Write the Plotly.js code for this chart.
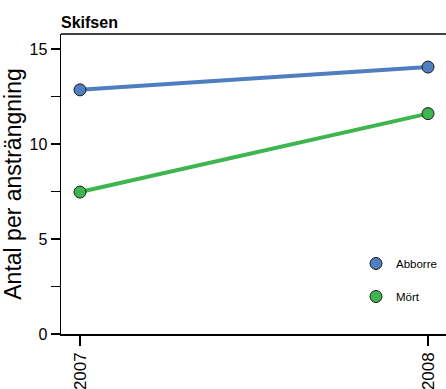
<!DOCTYPE html>
<html>
<head>
<meta charset="utf-8">
<script src="https://cdn.plot.ly/plotly-3.0.1.min.js"></script>
<style>html,body{margin:0;padding:0;background:#fff;} #chart{width:446px;height:389px;}</style>
</head>
<body>
<div id="chart"></div>
<script>
const years = [2007, 2008];
const abborre = [12.85, 14.05];
const mort = [7.47, 11.6];
const seriesNames = ["Abborre", "Mört"];
const yTicks = [0, 5, 10, 15];
const xTickLabels = ["2007", "2008"];

const lineCol = ["#4f7ec1", "#3eb54f"];
const series = [abborre, mort];

const traces = [];
series.forEach((vals, i) => {
  traces.push({
    x: years, y: vals, type: "scatter", mode: "lines",
    showlegend: false, hoverinfo: "skip",
    line: {color: lineCol[i], width: 4}
  });
});
series.forEach((vals, i) => {
  traces.push({
    x: years, y: vals, type: "scatter", mode: "markers",
    name: seriesNames[i], legendgroup: "g" + i,
    marker: {color: lineCol[i], size: 12, line: {color: "#1a1a1a", width: 1}},
    cliponaxis: false
  });
});

const layout = {
  width: 446, height: 389,
  margin: {l: 61, r: 0, t: 34, b: 55},
  paper_bgcolor: "#fff", plot_bgcolor: "#fff",
  showlegend: true,
  title: {
    text: "<b>Skifsen</b>",
    font: {family: "Liberation Sans", size: 16, color: "#000"},
    x: 0, xref: "paper", xanchor: "left",
    y: 1 - 22 / 389, yref: "container", yanchor: "middle"
  },
  xaxis: {
    range: [2007 - 19 / 348, 2008 + 18 / 348],
    tickvals: years, ticktext: xTickLabels,
    tickangle: -90,
    ticks: "outside", ticklen: 10, tickwidth: 1.5, tickcolor: "#000",
    showline: true, linecolor: "#000", linewidth: 1.5,
    showgrid: false, zeroline: false,
    tickfont: {family: "Liberation Sans", size: 17, color: "#000"}
  },
  yaxis: {
    range: [0, 15.79],
    tickvals: yTicks,
    ticks: "outside", ticklen: 9, tickwidth: 1.5, tickcolor: "#000",
    minor: {tickvals: [2.5, 7.5, 12.5], ticks: "outside", ticklen: 9, tickwidth: 1.5, tickcolor: "#000", showgrid: false},
    showline: true, linecolor: "#000", linewidth: 1.5,
    showgrid: false, zeroline: false,
    tickfont: {family: "Liberation Sans", size: 16, color: "#000"},
    title: {text: "Antal per ansträngning", font: {family: "Liberation Sans", size: 23, color: "#000"}, standoff: 11}
  },
  legend: {
    x: (356 - 61) / 385, xanchor: "left",
    y: 1 - (249 - 34) / 300, yanchor: "top",
    traceorder: "grouped", tracegroupgap: 14,
    font: {family: "Liberation Sans", size: 11.5, color: "#000"},
    bgcolor: "rgba(0,0,0,0)"
  },
  shapes: [{type: "line", xref: "paper", yref: "paper", x0: 0, x1: 1, y0: 1, y1: 1, line: {color: "#000", width: 1.5}}]
};

Plotly.newPlot("chart", traces, layout, {displayModeBar: false, staticPlot: true});
</script>
</body>
</html>
